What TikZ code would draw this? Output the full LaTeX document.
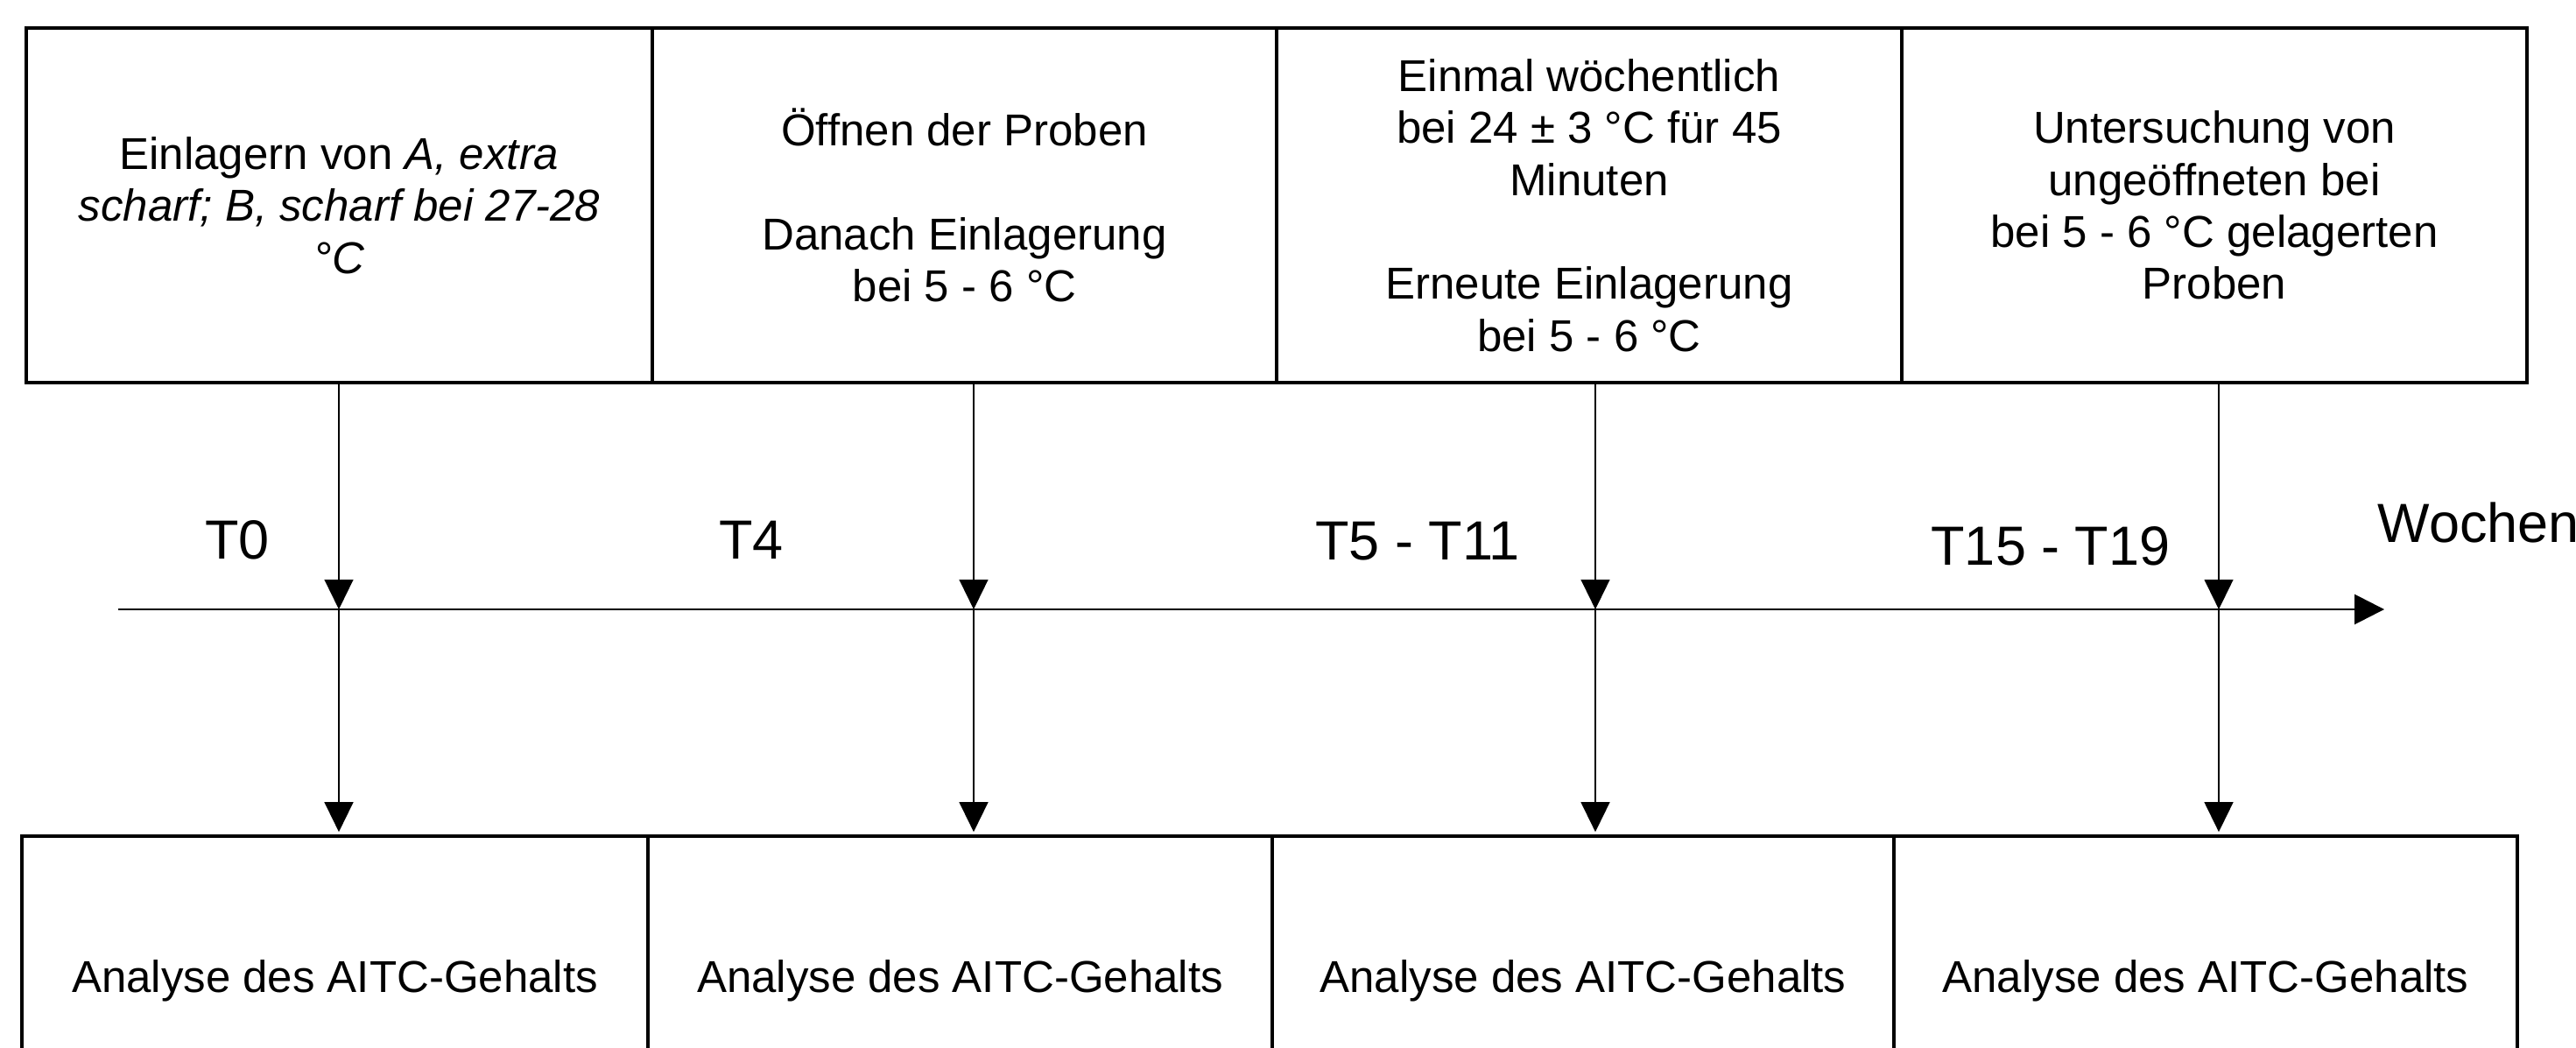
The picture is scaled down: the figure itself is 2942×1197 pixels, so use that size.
\documentclass[tikz,border=0pt]{standalone}
\usepackage{fontspec}
\setmainfont{Liberation Sans}
\usetikzlibrary{arrows.meta}
\tikzset{
  topbox/.style={draw=black, line width=1.2pt, rectangle, inner sep=0pt, align=center,
    minimum height=101.25pt, font=\fontsize{12.75}{14.85}\selectfont},
  botbox/.style={draw=black, line width=1.2pt, rectangle, inner sep=0pt, align=center,
    minimum height=82.5pt, font=\fontsize{12.75}{14.85}\selectfont},
  lbl/.style={inner sep=0pt, anchor=base, font=\fontsize{15.75}{18}\selectfont},
  arr/.style={line width=0.5pt, -{Triangle[length=8.5pt, width=8.2pt]}},
  axisline/.style={line width=0.7pt, -{Triangle[length=8.5pt, width=8.5pt]}}
}
\begin{document}
\begin{tikzpicture}[x=0.25pt, y=-0.25pt]
\useasboundingbox (0,0) rectangle (2942,1197);
\clip (0,0) rectangle (2942,1197);
% top boxes
\node[topbox, minimum width=178.75pt] (t1) at (387.5,234.5)
  {Einlagern von \textit{A, extra}\\ \textit{scharf; B, scharf bei 27-28}\\ \textit{°C}};
\node[topbox, minimum width=178.25pt] (t2) at (1101.5,234.5)
  {Öffnen der Proben\\[14.85pt] Danach Einlagerung\\ bei 5 - 6 °C};
\node[topbox, minimum width=178.5pt] (t3) at (1815,234.5)
  {Einmal wöchentlich\\ bei 24 ± 3 °C für 45\\ Minuten\\[14.85pt] Erneute Einlagerung\\ bei 5 - 6 °C};
\node[topbox, minimum width=178.5pt] (t4) at (2529,234.5)
  {Untersuchung von\\ ungeöffneten bei\\ bei 5 - 6 °C gelagerten\\ Proben};
% bottom boxes
\node[botbox, minimum width=178.75pt] (b1) at (382.5,1120) {Analyse des AITC-Gehalts};
\node[botbox, minimum width=178.25pt] (b2) at (1096.5,1120) {Analyse des AITC-Gehalts};
\node[botbox, minimum width=177.5pt] (b3) at (1808,1120) {Analyse des AITC-Gehalts};
\node[botbox, minimum width=178pt] (b4) at (2519,1120) {Analyse des AITC-Gehalts};
% axis
\coordinate (ax0) at (135,696);
\coordinate (ax1) at (2723,696);
\draw[axisline] (ax0) -- (ax1);
% arrow positions on the axis
\coordinate (a1) at (387,696);
\coordinate (a2) at (1112,696);
\coordinate (a3) at (1822,696);
\coordinate (a4) at (2534,696);
\foreach \i in {1,2,3,4}{
  \draw[arr] (t\i.south -| a\i) -- (a\i);
  \draw[arr, shorten >=0.6pt] (a\i) -- (b\i.north -| a\i);
}
% labels
\node[lbl] (l0) at (271,638) {T0};
\node[lbl] (l4) at (858,638) {T4};
\node[lbl] (l5) at (1619,639) {T5 - T11};
\node[lbl] (l15) at (2342,645) {T15 - T19};
\node[lbl, anchor=base west] (lw) at (2715,619) {Wochen};
\end{tikzpicture}
\end{document}
